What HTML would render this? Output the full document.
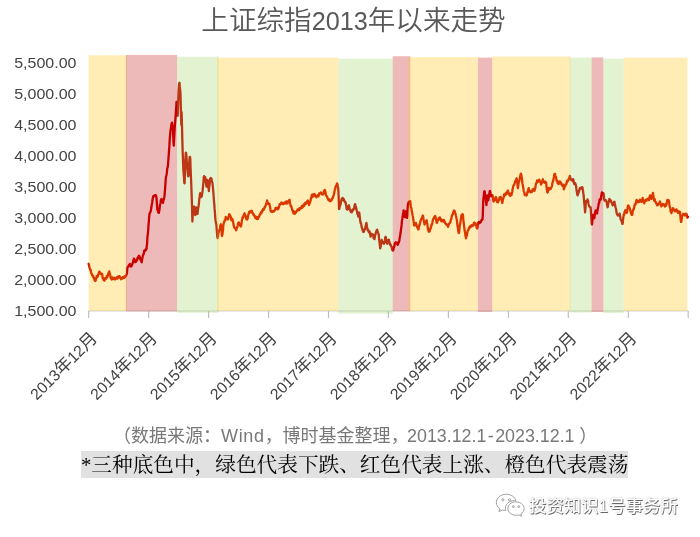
<!DOCTYPE html>
<html lang="zh-CN">
<head>
<meta charset="utf-8">
<title>上证综指2013年以来走势</title>
<style>
html,body{margin:0;padding:0;background:#fff;}
body{width:700px;height:537px;position:relative;overflow:hidden;font-family:"Liberation Sans","Noto Sans CJK SC",sans-serif;}
svg{position:absolute;left:0;top:0;display:block;}
.title{position:absolute;left:201.3px;top:2px;font-size:27.6px;line-height:38px;color:#595959;font-weight:350;white-space:nowrap;}
.title span{font-size:25.2px;}
.src{position:absolute;left:113px;top:421.5px;font-size:18px;line-height:28px;color:#787878;white-space:nowrap;}
.note{position:absolute;left:81px;top:451px;height:26.5px;background:#e1e1e1;font-family:"Liberation Serif","Noto Serif CJK SC",serif;font-size:20.67px;line-height:28.5px;color:#000;white-space:nowrap;overflow:hidden;}
.wm{position:absolute;left:529px;top:494px;font-size:17.4px;line-height:24px;color:#fff;white-space:nowrap;font-weight:500;text-shadow:0.8px 0.8px 0.6px #6a6a6a,0 0 1.5px #a0a0a0;}
</style>
</head>
<body>
<svg width="700" height="537" viewBox="0 0 700 537">
<g stroke="#bdbdbd" stroke-width="1.15" fill="none"><line x1="88.2" y1="311" x2="688.8" y2="311" stroke="#d0d0d0" stroke-width="1"/><line x1="88.7" y1="311" x2="88.7" y2="318"/><line x1="148.7" y1="311" x2="148.7" y2="318"/><line x1="208.6" y1="311" x2="208.6" y2="318"/><line x1="268.6" y1="311" x2="268.6" y2="318"/><line x1="328.5" y1="311" x2="328.5" y2="318"/><line x1="388.4" y1="311" x2="388.4" y2="318"/><line x1="448.4" y1="311" x2="448.4" y2="318"/><line x1="508.4" y1="311" x2="508.4" y2="318"/><line x1="568.3" y1="311" x2="568.3" y2="318"/><line x1="628.3" y1="311" x2="628.3" y2="318"/><line x1="688.2" y1="311" x2="688.2" y2="318"/></g>
<polyline points="88.6,263.8 88.9,264.7 89.2,266.1 89.5,267.7 89.8,268.2 90.1,269.5 90.4,270.4 90.7,270.0 91.0,272.2 91.3,273.3 91.6,273.4 91.9,274.2 92.2,275.4 92.5,275.7 92.8,276.1 93.1,275.7 93.4,277.2 93.7,277.9 94.0,278.7 94.3,278.1 94.6,280.2 94.9,280.6 95.2,280.0 95.5,281.0 95.8,279.9 96.1,278.2 96.4,277.8 96.7,276.2 97.0,277.4 97.3,276.8 97.6,275.9 97.9,276.4 98.2,274.4 98.5,274.7 98.8,272.7 99.1,272.4 99.4,271.6 99.7,272.7 100.0,273.2 100.3,272.5 100.6,273.5 100.9,273.6 101.2,274.4 101.5,274.3 101.8,273.9 102.1,273.9 102.4,275.7 102.7,278.2 103.0,278.4 103.3,278.2 103.6,280.1 103.9,280.2 104.2,280.4 104.5,280.6 104.8,279.9 105.1,279.2 105.4,277.9 105.7,278.4 106.0,278.1 106.3,278.6 106.6,277.6 106.9,275.8 107.2,276.0 107.5,276.9 107.8,275.7 108.1,274.4 108.4,273.3 108.7,272.5 109.0,272.3 109.3,271.4 109.6,273.4 109.9,273.9 110.2,274.9 110.5,276.8 110.8,278.2 111.1,278.2 111.4,279.0 111.7,279.5 112.0,279.0 112.3,277.5 112.6,278.5 112.9,279.1 113.2,279.0 113.5,278.1 113.8,278.0 114.1,277.7 114.4,277.7 114.7,278.8 115.0,279.5 115.3,279.2 115.6,278.9 115.9,278.7 116.2,278.1 116.5,277.7 116.8,277.1 117.1,277.1 117.4,278.7 117.7,278.4 118.0,277.4 118.3,276.7 118.6,276.1 118.9,276.7 119.2,277.2 119.5,276.2 119.8,277.1 120.1,276.9 120.4,278.3 120.7,278.2 121.0,279.2 121.3,278.4 121.6,278.1 121.9,278.2 122.2,278.7 122.5,278.6 122.8,277.2 123.1,277.4 123.4,277.4 123.7,277.0 124.0,276.6 124.3,278.0 124.6,277.1 124.9,276.3 125.2,276.9 125.5,276.3 125.8,275.5 126.1,275.4 126.4,274.8 126.7,274.1 127.0,272.6 127.3,268.0 127.6,267.1 127.9,266.7 128.2,266.4 128.5,266.6 128.8,265.8 129.1,264.8 129.4,265.5 129.7,264.8 130.0,264.0 130.3,265.3 130.6,265.4 130.9,266.5 131.2,266.5 131.5,266.2 131.8,265.3 132.1,264.7 132.4,264.0 132.7,262.8 133.0,262.1 133.3,260.4 133.6,260.2 133.9,258.6 134.2,259.4 134.5,260.5 134.8,261.3 135.1,262.2 135.4,260.4 135.7,261.2 136.0,261.8 136.3,261.4 136.6,259.6 136.9,259.4 137.2,260.1 137.5,257.8 137.8,257.8 138.1,258.0 138.4,256.5 138.7,256.4 139.0,255.7 139.3,256.0 139.6,256.5 139.9,257.7 140.2,258.4 140.5,259.8 140.8,259.4 141.1,260.1 141.4,261.5 141.7,262.3 142.0,259.5 142.3,258.7 142.6,256.7 142.9,255.6 143.2,254.5 143.5,254.6 143.8,253.6 144.1,251.4 144.4,250.4 144.7,251.1 145.0,250.4 145.3,250.7 145.6,250.3 145.9,249.2 146.2,249.8 146.5,248.6 146.8,245.7 147.1,243.6 147.4,237.6 147.7,235.1 148.0,232.3 148.3,228.6 148.6,223.6 148.9,221.1 149.2,216.3 149.5,213.8 149.8,213.1 150.1,213.0 150.4,211.9 150.7,211.2 151.0,209.4 151.3,208.1 151.6,205.8 151.9,203.9 152.2,202.4 152.5,200.0 152.8,198.3 153.1,196.8 153.4,196.1 153.7,196.0 154.0,195.6 154.3,195.8 154.6,195.4 154.9,196.1 155.2,195.2 155.5,195.4 155.8,195.2 156.1,196.2 156.4,197.4 156.7,200.2 157.0,205.3 157.3,209.5 157.6,210.1 157.9,210.5 158.2,212.2 158.5,212.9 158.8,212.9 159.1,211.7 159.4,210.1 159.7,207.4 160.0,205.0 160.3,203.8 160.6,202.4 160.9,199.9 161.2,200.2 161.5,198.9 161.8,200.2 162.1,200.0 162.4,202.0 162.7,202.1 163.0,203.0 163.3,200.8 163.6,200.0 163.9,198.9 164.2,197.8 164.5,196.1 164.8,192.1 165.1,188.7 165.4,184.1 165.7,179.4 166.0,177.0 166.3,175.7 166.6,174.5 166.9,172.6 167.2,168.8 167.5,167.5 167.8,166.6 168.1,163.6 168.4,159.2 168.7,155.7 169.0,151.1 169.3,146.8 169.6,141.7 169.9,137.7 170.2,133.6 170.5,130.6 170.8,129.1 171.1,127.5 171.4,124.7 171.7,123.3 172.0,122.6 172.3,124.9 172.6,125.4 172.9,128.8 173.2,134.9 173.5,142.2 173.8,145.6 174.1,139.4 174.4,133.7 174.7,128.5 175.0,123.6 175.3,120.5 175.6,116.5 175.9,111.6 176.2,107.7 176.5,101.8 176.8,103.5 177.1,109.5 177.4,115.7 177.7,115.6 178.0,108.2 178.3,98.8 178.6,90.6 178.9,86.5 179.2,83.8 179.5,82.8 179.8,86.7 180.1,89.3 180.4,92.2 180.7,102.4 181.0,113.4 181.3,125.0 181.6,112.2 181.9,122.4 182.2,134.5 182.5,146.2 182.8,155.3 183.1,163.7 183.4,170.6 183.7,174.0 184.0,177.9 184.3,182.9 184.6,183.3 184.9,173.9 185.2,163.9 185.5,157.5 185.8,152.7 186.1,153.2 186.4,155.7 186.7,160.6 187.0,164.6 187.3,167.7 187.6,170.6 187.9,173.8 188.2,176.3 188.5,175.7 188.8,171.0 189.1,164.7 189.4,160.1 189.7,157.0 190.0,157.0 190.3,159.5 190.6,169.0 190.9,175.8 191.2,182.9 191.5,191.0 191.8,199.5 192.1,210.2 192.4,221.5 192.7,216.0 193.0,210.8 193.3,207.0 193.6,207.9 193.9,207.4 194.2,206.6 194.5,207.7 194.8,211.4 195.1,215.0 195.4,214.8 195.7,213.0 196.0,210.5 196.3,207.5 196.6,208.9 196.9,211.7 197.2,213.2 197.5,214.0 197.8,211.3 198.1,208.8 198.4,207.1 198.7,205.4 199.0,202.7 199.3,199.0 199.6,197.9 199.9,194.7 200.2,193.2 200.5,195.1 200.8,196.4 201.1,197.0 201.4,196.8 201.7,196.3 202.0,194.3 202.3,192.7 202.6,190.7 202.9,187.7 203.2,184.7 203.5,181.5 203.8,177.1 204.1,176.2 204.4,177.0 204.7,177.2 205.0,177.5 205.3,177.2 205.6,179.8 205.9,182.8 206.2,184.3 206.5,186.7 206.8,186.2 207.1,183.7 207.4,180.0 207.7,180.7 208.0,184.1 208.3,186.6 208.6,188.4 208.9,191.1 209.2,187.0 209.5,185.0 209.8,182.5 210.1,178.7 210.4,178.4 210.7,177.9 211.0,178.7 211.3,178.3 211.6,179.2 211.9,180.7 212.2,182.0 212.5,183.4 212.8,186.3 213.1,189.7 213.4,193.0 213.7,196.9 214.0,201.8 214.3,204.1 214.6,208.9 214.9,212.3 215.2,216.9 215.5,220.4 215.8,222.0 216.1,223.6 216.4,225.1 216.7,229.3 217.0,232.8 217.3,236.5 217.6,238.0 217.9,236.9 218.2,234.6 218.5,232.8 218.8,232.0 219.1,230.3 219.4,229.9 219.7,229.1 220.0,228.1 220.3,226.3 220.6,224.8 220.9,224.2 221.2,229.0 221.5,231.1 221.8,234.9 222.1,235.9 222.4,234.2 222.7,232.0 223.0,230.1 223.3,225.4 223.6,223.8 223.9,222.7 224.2,222.2 224.5,221.0 224.8,220.0 225.1,219.9 225.4,220.1 225.7,216.9 226.0,217.5 226.3,218.3 226.6,218.6 226.9,218.6 227.2,218.0 227.5,218.1 227.8,219.4 228.1,219.2 228.4,217.9 228.7,216.1 229.0,215.4 229.3,214.2 229.6,214.4 229.9,215.2 230.2,215.6 230.5,216.8 230.8,216.9 231.1,218.8 231.4,220.4 231.7,219.1 232.0,219.6 232.3,218.9 232.6,219.9 232.9,221.0 233.2,222.2 233.5,224.6 233.8,225.8 234.1,227.1 234.4,227.6 234.7,228.0 235.0,228.2 235.3,228.7 235.6,228.6 235.9,229.6 236.2,230.3 236.5,229.3 236.8,227.3 237.1,227.2 237.4,227.0 237.7,225.4 238.0,223.4 238.3,222.9 238.6,223.6 238.9,222.4 239.2,223.7 239.5,224.1 239.8,224.2 240.1,225.5 240.4,225.2 240.7,226.5 241.0,226.3 241.3,224.8 241.6,222.7 241.9,220.4 242.2,219.0 242.5,217.3 242.8,218.2 243.1,217.4 243.4,216.2 243.7,215.1 244.0,214.4 244.3,214.3 244.6,213.3 244.9,215.4 245.2,215.2 245.5,215.4 245.8,216.6 246.1,218.2 246.4,219.3 246.7,218.9 247.0,219.5 247.3,219.4 247.6,218.6 247.9,217.5 248.2,215.6 248.5,214.0 248.8,213.6 249.1,212.0 249.4,212.7 249.7,212.3 250.0,211.4 250.3,211.3 250.6,211.0 250.9,211.3 251.2,212.4 251.5,211.4 251.8,210.7 252.1,211.9 252.4,212.3 252.7,212.9 253.0,213.6 253.3,213.9 253.6,215.1 253.9,214.8 254.2,215.6 254.5,215.7 254.8,215.9 255.1,217.3 255.4,218.0 255.7,216.7 256.0,216.7 256.3,217.7 256.6,218.9 256.9,218.4 257.2,218.6 257.5,217.2 257.8,219.0 258.1,218.2 258.4,217.8 258.7,217.2 259.0,216.8 259.3,216.2 259.6,214.9 259.9,214.8 260.2,214.0 260.5,214.3 260.8,212.9 261.1,212.1 261.4,212.3 261.7,212.6 262.0,211.8 262.3,210.5 262.6,210.1 262.9,209.3 263.2,210.4 263.5,209.9 263.8,209.7 264.1,208.7 264.4,207.4 264.7,207.5 265.0,207.5 265.3,206.4 265.6,205.1 265.9,204.9 266.2,203.4 266.5,203.2 266.8,201.7 267.1,200.4 267.4,201.3 267.7,202.1 268.0,203.8 268.3,203.5 268.6,203.8 268.9,203.7 269.2,203.6 269.5,204.1 269.8,206.4 270.1,206.9 270.4,209.2 270.7,211.0 271.0,210.6 271.3,211.8 271.6,211.4 271.9,211.9 272.2,211.3 272.5,211.9 272.8,211.0 273.1,211.6 273.4,211.3 273.7,211.4 274.0,211.4 274.3,210.9 274.6,210.2 274.9,210.1 275.2,209.9 275.5,208.0 275.8,208.1 276.1,208.6 276.4,208.0 276.7,208.5 277.0,207.6 277.3,209.1 277.6,208.8 277.9,208.8 278.2,209.2 278.5,208.1 278.8,207.8 279.1,206.2 279.4,205.4 279.7,204.1 280.0,204.0 280.3,204.5 280.6,203.9 280.9,203.8 281.2,202.8 281.5,202.4 281.8,202.6 282.1,203.4 282.4,203.8 282.7,203.7 283.0,204.2 283.3,203.6 283.6,203.2 283.9,203.8 284.2,202.6 284.5,202.4 284.8,203.2 285.1,202.4 285.4,202.6 285.7,201.9 286.0,203.5 286.3,201.5 286.6,201.3 286.9,201.4 287.2,203.4 287.5,203.3 287.8,202.6 288.1,201.4 288.4,201.8 288.7,201.7 289.0,200.9 289.3,199.8 289.6,199.9 289.9,202.0 290.2,203.7 290.5,205.0 290.8,206.1 291.1,205.8 291.4,207.2 291.7,207.6 292.0,208.9 292.3,210.2 292.6,210.4 292.9,210.6 293.2,212.5 293.5,213.4 293.8,213.5 294.1,211.4 294.4,212.2 294.7,213.0 295.0,213.7 295.3,212.6 295.6,212.0 295.9,211.7 296.2,212.3 296.5,211.1 296.8,211.0 297.1,210.3 297.4,210.6 297.7,209.4 298.0,209.9 298.3,209.5 298.6,209.3 298.9,209.6 299.2,210.0 299.5,208.1 299.8,208.8 300.1,208.7 300.4,208.0 300.7,208.6 301.0,207.9 301.3,208.2 301.6,206.9 301.9,205.9 302.2,206.7 302.5,207.6 302.8,207.0 303.1,206.8 303.4,205.7 303.7,204.5 304.0,204.6 304.3,205.8 304.6,203.9 304.9,203.9 305.2,202.8 305.5,203.4 305.8,203.9 306.1,202.5 306.4,202.2 306.7,203.0 307.0,202.1 307.3,201.0 307.6,200.9 307.9,200.5 308.2,202.5 308.5,202.6 308.8,204.2 309.1,205.0 309.4,204.1 309.7,202.8 310.0,202.5 310.3,201.5 310.6,200.6 310.9,198.3 311.2,198.4 311.5,196.8 311.8,195.0 312.1,195.1 312.4,195.7 312.7,196.9 313.0,195.6 313.3,194.1 313.6,195.5 313.9,195.3 314.2,195.0 314.5,194.4 314.8,194.3 315.1,196.0 315.4,195.8 315.7,195.7 316.0,195.7 316.3,197.3 316.6,196.5 316.9,196.7 317.2,196.5 317.5,196.2 317.8,195.2 318.1,195.6 318.4,196.3 318.7,195.5 319.0,194.3 319.3,193.3 319.6,193.8 319.9,193.6 320.2,193.6 320.5,193.5 320.8,192.4 321.1,193.3 321.4,193.2 321.7,193.2 322.0,193.7 322.3,194.5 322.6,194.5 322.9,194.0 323.2,194.4 323.5,193.3 323.8,192.2 324.1,190.8 324.4,190.9 324.7,189.9 325.0,190.5 325.3,192.2 325.6,193.2 325.9,194.8 326.2,195.6 326.5,195.9 326.8,196.3 327.1,196.6 327.4,197.9 327.7,198.4 328.0,198.6 328.3,199.9 328.6,200.3 328.9,200.2 329.2,199.4 329.5,200.5 329.8,201.0 330.1,201.2 330.4,201.1 330.7,200.8 331.0,200.7 331.3,200.5 331.6,199.9 331.9,199.3 332.2,198.5 332.5,198.3 332.8,197.9 333.1,196.5 333.4,196.0 333.7,195.2 334.0,194.1 334.3,192.4 334.6,191.0 334.9,189.3 335.2,189.3 335.5,186.8 335.8,186.3 336.1,185.6 336.4,185.6 336.7,184.5 337.0,183.4 337.3,183.8 337.6,185.0 337.9,186.8 338.2,188.1 338.5,193.7 338.8,201.1 339.1,209.1 339.4,208.7 339.7,206.4 340.0,205.4 340.3,205.3 340.6,203.9 340.9,202.1 341.2,201.4 341.5,199.5 341.8,198.6 342.1,199.0 342.4,199.9 342.7,197.9 343.0,198.6 343.3,199.9 343.6,198.9 343.9,199.4 344.2,201.1 344.5,201.0 344.8,202.0 345.1,202.5 345.4,201.9 345.7,203.6 346.0,204.5 346.3,206.4 346.6,208.7 346.9,209.4 347.2,209.5 347.5,209.6 347.8,208.9 348.1,208.9 348.4,206.8 348.7,205.7 349.0,205.3 349.3,207.6 349.6,208.8 349.9,209.4 350.2,210.1 350.5,211.1 350.8,211.8 351.1,212.0 351.4,211.6 351.7,212.4 352.0,211.8 352.3,210.5 352.6,209.8 352.9,210.4 353.2,209.9 353.5,209.2 353.8,208.8 354.1,208.9 354.4,206.7 354.7,205.7 355.0,204.1 355.3,205.2 355.6,206.2 355.9,207.0 356.2,207.9 356.5,209.9 356.8,210.9 357.1,211.7 357.4,214.0 357.7,214.1 358.0,214.5 358.3,216.7 358.6,215.1 358.9,213.7 359.2,212.5 359.5,214.7 359.8,217.4 360.1,219.8 360.4,221.8 360.7,223.3 361.0,223.1 361.3,224.7 361.6,226.8 361.9,228.0 362.2,228.3 362.5,229.9 362.8,230.4 363.1,231.6 363.4,231.9 363.7,231.8 364.0,231.0 364.3,229.9 364.6,229.4 364.9,229.3 365.2,228.6 365.5,226.7 365.8,225.1 366.1,224.0 366.4,222.8 366.7,224.7 367.0,226.7 367.3,228.1 367.6,229.6 367.9,230.6 368.2,230.6 368.5,230.3 368.8,232.0 369.1,232.5 369.4,231.5 369.7,231.6 370.0,233.1 370.3,235.1 370.6,236.7 370.9,235.7 371.2,234.5 371.5,233.9 371.8,234.5 372.1,234.9 372.4,235.2 372.7,235.2 373.0,234.5 373.3,235.8 373.6,238.3 373.9,238.4 374.2,238.8 374.5,239.0 374.8,237.2 375.1,235.2 375.4,234.8 375.7,233.2 376.0,232.6 376.3,231.0 376.6,230.6 376.9,230.0 377.2,229.6 377.5,231.1 377.8,232.3 378.1,232.8 378.4,234.0 378.7,234.4 379.0,237.8 379.3,240.9 379.6,243.1 379.9,245.4 380.2,248.4 380.5,247.3 380.8,246.0 381.1,244.3 381.4,241.6 381.7,239.9 382.0,240.6 382.3,241.7 382.6,242.6 382.9,242.6 383.2,242.9 383.5,243.3 383.8,243.3 384.1,243.7 384.4,242.6 384.7,241.7 385.0,240.4 385.3,237.2 385.6,236.8 385.9,237.9 386.2,240.2 386.5,242.3 386.8,242.4 387.1,243.5 387.4,243.7 387.7,242.3 388.0,241.0 388.3,239.9 388.6,240.0 388.9,239.6 389.2,241.4 389.5,242.0 389.8,243.2 390.1,244.8 390.4,244.4 390.7,244.6 391.0,246.0 391.3,246.3 391.6,247.1 391.9,248.5 392.2,249.9 392.5,250.1 392.8,250.6 393.1,250.2 393.4,250.0 393.7,247.1 394.0,247.3 394.3,246.5 394.6,244.6 394.9,243.1 395.2,243.3 395.5,242.6 395.8,242.3 396.1,243.2 396.4,243.0 396.7,243.4 397.0,243.9 397.3,244.6 397.6,244.8 397.9,244.6 398.2,243.1 398.5,241.8 398.8,242.6 399.1,241.5 399.4,240.5 399.7,237.7 400.0,236.8 400.3,234.5 400.6,232.8 400.9,230.3 401.2,227.9 401.5,225.9 401.8,222.5 402.1,219.9 402.4,218.2 402.7,215.9 403.0,214.0 403.3,212.5 403.6,210.4 403.9,212.0 404.2,212.8 404.5,215.1 404.8,217.0 405.1,217.1 405.4,216.3 405.7,214.0 406.0,211.2 406.3,211.1 406.6,214.2 406.9,217.9 407.2,216.5 407.5,210.9 407.8,206.2 408.1,203.7 408.4,204.2 408.7,201.8 409.0,203.0 409.3,202.4 409.6,203.2 409.9,202.0 410.2,201.0 410.5,203.3 410.8,206.2 411.1,207.9 411.4,208.0 411.7,211.2 412.0,212.0 412.3,213.8 412.6,215.5 412.9,216.8 413.2,218.7 413.5,220.8 413.8,223.0 414.1,225.3 414.4,225.5 414.7,224.0 415.0,223.8 415.3,224.1 415.6,223.9 415.9,222.8 416.2,223.8 416.5,224.8 416.8,226.1 417.1,227.3 417.4,226.9 417.7,227.1 418.0,228.8 418.3,229.4 418.6,229.4 418.9,226.5 419.2,226.4 419.5,224.1 419.8,224.3 420.1,223.2 420.4,221.8 420.7,220.3 421.0,220.0 421.3,218.7 421.6,218.6 421.9,217.9 422.2,217.1 422.5,216.4 422.8,215.5 423.1,216.1 423.4,218.4 423.7,220.3 424.0,221.4 424.3,223.3 424.6,224.5 424.9,222.8 425.2,222.5 425.5,222.0 425.8,221.2 426.1,221.5 426.4,220.6 426.7,220.3 427.0,222.4 427.3,224.3 427.6,226.1 427.9,229.1 428.2,229.5 428.5,231.1 428.8,231.7 429.1,231.5 429.4,231.6 429.7,231.2 430.0,229.4 430.3,228.3 430.6,228.5 430.9,227.2 431.2,226.8 431.5,224.6 431.8,224.7 432.1,224.0 432.4,222.7 432.7,220.7 433.0,219.6 433.3,219.0 433.6,218.6 433.9,217.8 434.2,217.1 434.5,216.7 434.8,217.0 435.1,215.8 435.4,216.6 435.7,217.5 436.0,219.3 436.3,220.1 436.6,222.7 436.9,223.0 437.2,222.1 437.5,221.0 437.8,220.7 438.1,220.1 438.4,219.5 438.7,218.1 439.0,218.4 439.3,217.7 439.6,219.4 439.9,217.5 440.2,218.4 440.5,218.7 440.8,220.4 441.1,219.7 441.4,221.3 441.7,219.7 442.0,221.3 442.3,220.8 442.6,220.2 442.9,220.1 443.2,221.2 443.5,221.5 443.8,219.8 444.1,221.7 444.4,222.2 444.7,221.5 445.0,223.1 445.3,222.9 445.6,223.6 445.9,224.2 446.2,223.9 446.5,224.8 446.8,224.2 447.1,224.9 447.4,224.8 447.7,225.2 448.0,226.9 448.3,226.4 448.6,224.8 448.9,224.4 449.2,223.5 449.5,223.3 449.8,223.1 450.1,222.7 450.4,222.0 450.7,220.4 451.0,219.7 451.3,219.2 451.6,217.2 451.9,216.0 452.2,214.9 452.5,214.6 452.8,214.5 453.1,213.0 453.4,212.6 453.7,211.1 454.0,210.5 454.3,210.6 454.6,211.0 454.9,212.7 455.2,213.3 455.5,213.5 455.8,215.3 456.1,216.5 456.4,218.0 456.7,219.2 457.0,221.5 457.3,223.9 457.6,226.4 457.9,227.9 458.2,230.8 458.5,232.3 458.8,233.1 459.1,232.1 459.4,229.4 459.7,225.9 460.0,224.8 460.3,222.8 460.6,221.1 460.9,218.9 461.2,217.0 461.5,215.3 461.8,214.6 462.1,215.7 462.4,214.9 462.7,214.3 463.0,215.1 463.3,219.5 463.6,222.5 463.9,224.6 464.2,226.8 464.5,229.3 464.8,231.8 465.1,232.3 465.4,235.3 465.7,236.9 466.0,238.4 466.3,236.8 466.6,236.0 466.9,235.5 467.2,233.4 467.5,231.8 467.8,230.3 468.1,230.3 468.4,230.2 468.7,228.4 469.0,227.9 469.3,228.3 469.6,226.7 469.9,226.7 470.2,227.2 470.5,225.8 470.8,225.8 471.1,226.0 471.4,226.5 471.7,225.1 472.0,225.9 472.3,225.6 472.6,225.9 472.9,225.9 473.2,225.1 473.5,224.7 473.8,223.1 474.1,222.6 474.4,222.7 474.7,223.3 475.0,224.5 475.3,223.3 475.6,224.0 475.9,224.2 476.2,224.6 476.5,227.2 476.8,228.0 477.1,228.5 477.4,227.6 477.7,225.1 478.0,222.7 478.3,223.6 478.6,222.6 478.9,221.9 479.2,222.8 479.5,223.0 479.8,222.6 480.1,222.7 480.4,222.4 480.7,221.9 481.0,221.8 481.3,220.6 481.6,219.8 481.9,219.8 482.2,219.3 482.5,219.4 482.8,215.0 483.1,204.4 483.4,198.5 483.7,197.4 484.0,193.5 484.3,191.5 484.6,191.1 484.9,193.3 485.2,195.5 485.5,195.7 485.8,199.5 486.1,202.1 486.4,205.2 486.7,202.0 487.0,198.2 487.3,195.5 487.6,197.7 487.9,199.3 488.2,200.4 488.5,199.0 488.8,196.9 489.1,196.2 489.4,193.3 489.7,191.2 490.0,191.0 490.3,192.1 490.6,195.0 490.9,196.2 491.2,195.8 491.5,195.5 491.8,195.5 492.1,195.6 492.4,195.1 492.7,196.3 493.0,197.4 493.3,200.3 493.6,201.5 493.9,200.7 494.2,200.4 494.5,200.1 494.8,200.2 495.1,200.0 495.4,198.4 495.7,197.2 496.0,197.2 496.3,197.7 496.6,199.3 496.9,201.1 497.2,202.2 497.5,202.2 497.8,201.7 498.1,202.4 498.4,200.7 498.7,200.6 499.0,200.0 499.3,198.6 499.6,197.3 499.9,197.6 500.2,196.9 500.5,197.0 500.8,197.2 501.1,197.6 501.4,199.1 501.7,200.5 502.0,201.3 502.3,203.0 502.6,201.7 502.9,199.6 503.2,198.9 503.5,198.0 503.8,196.7 504.1,194.4 504.4,195.2 504.7,195.5 505.0,195.4 505.3,195.0 505.6,193.5 505.9,193.5 506.2,192.6 506.5,194.2 506.8,193.0 507.1,193.1 507.4,191.4 507.7,190.7 508.0,190.6 508.3,192.0 508.6,193.2 508.9,193.9 509.2,193.2 509.5,195.3 509.8,194.3 510.1,195.4 510.4,195.9 510.7,195.3 511.0,195.0 511.3,193.1 511.6,194.7 511.9,192.9 512.2,192.0 512.5,189.8 512.8,188.6 513.1,186.7 513.4,185.9 513.7,185.3 514.0,184.6 514.3,184.6 514.6,183.5 514.9,182.3 515.2,181.1 515.5,182.1 515.8,180.6 516.1,180.9 516.4,178.7 516.7,178.3 517.0,180.6 517.3,182.2 517.6,185.9 517.9,188.2 518.2,186.3 518.5,183.7 518.8,182.2 519.1,181.9 519.4,180.5 519.7,179.1 520.0,177.1 520.3,176.1 520.6,174.1 520.9,173.6 521.2,174.4 521.5,176.5 521.8,177.4 522.1,179.9 522.4,183.2 522.7,184.6 523.0,186.0 523.3,188.2 523.6,190.2 523.9,191.6 524.2,192.3 524.5,193.4 524.8,195.0 525.1,194.3 525.4,195.1 525.7,195.1 526.0,195.0 526.3,195.5 526.6,195.2 526.9,194.6 527.2,193.2 527.5,191.7 527.8,192.4 528.1,190.3 528.4,189.0 528.7,188.2 529.0,189.4 529.3,190.4 529.6,191.6 529.9,191.7 530.2,191.0 530.5,191.8 530.8,192.3 531.1,191.8 531.4,191.3 531.7,191.3 532.0,191.8 532.3,190.9 532.6,189.4 532.9,189.5 533.2,189.9 533.5,188.9 533.8,190.3 534.1,190.0 534.4,190.8 534.7,190.4 535.0,188.6 535.3,188.3 535.6,185.9 535.9,183.8 536.2,183.2 536.5,183.1 536.8,182.1 537.1,180.5 537.4,180.6 537.7,180.7 538.0,182.0 538.3,181.1 538.6,181.0 538.9,180.4 539.2,179.6 539.5,180.3 539.8,181.6 540.1,181.5 540.4,182.0 540.7,182.3 541.0,184.5 541.3,183.6 541.6,183.4 541.9,181.9 542.2,181.4 542.5,180.3 542.8,179.3 543.1,180.7 543.4,182.0 543.7,181.0 544.0,182.0 544.3,182.6 544.6,182.6 544.9,182.8 545.2,181.7 545.5,182.5 545.8,183.5 546.1,182.3 546.4,184.9 546.7,188.3 547.0,190.3 547.3,192.0 547.6,192.6 547.9,192.0 548.2,190.8 548.5,190.2 548.8,187.9 549.1,188.4 549.4,188.4 549.7,189.2 550.0,188.9 550.3,188.6 550.6,189.1 550.9,188.2 551.2,187.3 551.5,187.0 551.8,186.6 552.1,185.2 552.4,183.3 552.7,181.9 553.0,181.3 553.3,180.5 553.6,178.5 553.9,176.9 554.2,175.0 554.5,174.0 554.8,175.0 555.1,173.8 555.4,176.0 555.7,177.0 556.0,176.9 556.3,179.3 556.6,180.5 556.9,181.3 557.2,180.7 557.5,183.0 557.8,183.0 558.1,182.8 558.4,184.0 558.7,183.7 559.0,183.5 559.3,183.6 559.6,181.3 559.9,182.6 560.2,181.7 560.5,182.2 560.8,183.2 561.1,182.9 561.4,183.8 561.7,184.8 562.0,185.0 562.3,185.7 562.6,184.7 562.9,184.6 563.2,184.8 563.5,186.1 563.8,189.3 564.1,188.7 564.4,187.3 564.7,186.5 565.0,186.5 565.3,186.0 565.6,184.3 565.9,184.6 566.2,183.8 566.5,183.9 566.8,181.8 567.1,180.9 567.4,181.7 567.7,180.3 568.0,180.8 568.3,180.3 568.6,179.5 568.9,178.8 569.2,177.9 569.5,177.2 569.8,175.8 570.1,176.4 570.4,179.1 570.7,179.5 571.0,179.7 571.3,179.9 571.6,179.5 571.9,179.9 572.2,180.0 572.5,181.0 572.8,180.3 573.1,179.1 573.4,179.9 573.7,181.3 574.0,183.6 574.3,184.0 574.6,183.0 574.9,183.3 575.2,183.2 575.5,183.9 575.8,185.2 576.1,186.2 576.4,188.9 576.7,191.0 577.0,192.6 577.3,194.6 577.6,195.4 577.9,194.3 578.2,193.2 578.5,193.3 578.8,191.2 579.1,191.2 579.4,189.7 579.7,188.4 580.0,188.0 580.3,189.0 580.6,188.0 580.9,188.7 581.2,188.6 581.5,187.3 581.8,188.3 582.1,187.6 582.4,187.3 582.7,189.1 583.0,190.9 583.3,193.5 583.6,194.8 583.9,199.0 584.2,202.4 584.5,205.2 584.8,208.3 585.1,212.4 585.4,209.2 585.7,203.8 586.0,201.1 586.3,202.1 586.6,202.0 586.9,201.7 587.2,201.2 587.5,199.4 587.8,200.6 588.1,200.9 588.4,203.5 588.7,204.7 589.0,205.8 589.3,206.4 589.6,206.8 589.9,207.1 590.2,207.4 590.5,207.1 590.8,210.1 591.1,214.7 591.4,219.7 591.7,223.9 592.0,224.5 592.3,221.1 592.6,216.9 592.9,215.0 593.2,215.0 593.5,215.9 593.8,217.9 594.1,218.4 594.4,218.0 594.7,215.1 595.0,213.0 595.3,211.5 595.6,210.5 595.9,210.6 596.2,211.8 596.5,211.5 596.8,212.9 597.1,213.5 597.4,210.5 597.7,209.4 598.0,207.4 598.3,206.5 598.6,204.1 598.9,203.0 599.2,202.8 599.5,200.2 599.8,199.2 600.1,199.9 600.4,199.8 600.7,199.6 601.0,198.0 601.3,195.4 601.6,194.4 601.9,192.4 602.2,192.8 602.5,193.0 602.8,193.8 603.1,193.1 603.4,193.1 603.7,194.2 604.0,198.7 604.3,199.8 604.6,200.7 604.9,200.0 605.2,200.0 605.5,199.9 605.8,200.5 606.1,200.4 606.4,201.4 606.7,202.3 607.0,203.8 607.3,206.2 607.6,207.2 607.9,206.7 608.2,203.6 608.5,203.0 608.8,201.8 609.1,201.1 609.4,198.9 609.7,199.7 610.0,200.1 610.3,200.5 610.6,200.2 610.9,200.7 611.2,201.9 611.5,202.5 611.8,203.0 612.1,203.7 612.4,204.4 612.7,205.4 613.0,204.8 613.3,203.0 613.6,204.1 613.9,202.1 614.2,201.8 614.5,202.0 614.8,203.8 615.1,204.9 615.4,206.8 615.7,207.9 616.0,208.8 616.3,210.7 616.6,212.9 616.9,213.8 617.2,214.6 617.5,214.7 617.8,215.5 618.1,215.6 618.4,214.8 618.7,215.2 619.0,214.6 619.3,214.4 619.6,213.6 619.9,214.7 620.2,216.5 620.5,218.2 620.8,219.7 621.1,220.0 621.4,220.6 621.7,221.8 622.0,221.6 622.3,223.9 622.6,223.9 622.9,221.3 623.2,218.3 623.5,216.6 623.8,214.3 624.1,214.9 624.4,213.7 624.7,211.5 625.0,211.5 625.3,210.3 625.6,210.1 625.9,210.6 626.2,211.1 626.5,211.8 626.8,212.8 627.1,211.5 627.4,209.4 627.7,207.2 628.0,205.9 628.3,205.4 628.6,206.2 628.9,208.0 629.2,207.1 629.5,208.1 629.8,208.7 630.1,209.4 630.4,210.9 630.7,211.9 631.0,212.9 631.3,213.8 631.6,214.8 631.9,214.8 632.2,214.8 632.5,212.9 632.8,211.1 633.1,210.4 633.4,209.1 633.7,209.3 634.0,207.5 634.3,206.8 634.6,204.9 634.9,204.2 635.2,204.0 635.5,204.5 635.8,202.9 636.1,202.5 636.4,200.3 636.7,200.0 637.0,200.3 637.3,200.8 637.6,201.7 637.9,202.4 638.2,201.3 638.5,202.0 638.8,200.8 639.1,201.9 639.4,201.2 639.7,200.5 640.0,199.6 640.3,200.0 640.6,200.5 640.9,200.5 641.2,201.8 641.5,201.9 641.8,201.4 642.1,200.2 642.4,199.7 642.7,198.0 643.0,201.4 643.3,200.5 643.6,200.6 643.9,202.0 644.2,203.3 644.5,202.5 644.8,201.0 645.1,200.2 645.4,199.9 645.7,199.8 646.0,199.9 646.3,200.6 646.6,200.7 646.9,199.3 647.2,199.2 647.5,199.2 647.8,199.2 648.1,198.6 648.4,198.4 648.7,199.6 649.0,200.2 649.3,197.6 649.6,197.2 649.9,196.0 650.2,195.3 650.5,195.3 650.8,196.7 651.1,198.4 651.4,198.9 651.7,196.7 652.0,197.9 652.3,198.0 652.6,195.4 652.9,192.8 653.2,194.6 653.5,196.6 653.8,199.0 654.1,200.5 654.4,200.3 654.7,199.2 655.0,200.5 655.3,201.7 655.6,201.6 655.9,202.4 656.2,203.3 656.5,203.8 656.8,203.9 657.1,205.1 657.4,204.0 657.7,205.3 658.0,204.2 658.3,204.6 658.6,203.8 658.9,203.8 659.2,203.0 659.5,202.8 659.8,201.5 660.1,201.7 660.4,203.3 660.7,204.6 661.0,205.1 661.3,206.4 661.6,205.0 661.9,205.2 662.2,204.5 662.5,204.0 662.8,205.2 663.1,204.1 663.4,204.3 663.7,204.9 664.0,204.8 664.3,204.7 664.6,205.9 664.9,206.6 665.2,204.3 665.5,205.2 665.8,205.7 666.1,205.3 666.4,205.0 666.7,202.9 667.0,202.1 667.3,200.0 667.6,199.9 667.9,200.7 668.2,200.1 668.5,200.3 668.8,200.4 669.1,201.9 669.4,204.7 669.7,206.8 670.0,207.4 670.3,208.0 670.6,211.5 670.9,211.6 671.2,212.1 671.5,213.1 671.8,211.5 672.1,210.5 672.4,210.3 672.7,209.8 673.0,208.2 673.3,209.1 673.6,209.1 673.9,209.3 674.2,209.9 674.5,210.3 674.8,211.4 675.1,211.2 675.4,210.3 675.7,210.4 676.0,209.9 676.3,209.5 676.6,209.5 676.9,210.7 677.2,211.0 677.5,211.9 677.8,212.8 678.1,212.3 678.4,211.7 678.7,211.2 679.0,211.8 679.3,212.5 679.6,213.4 679.9,211.9 680.2,214.3 680.5,217.1 680.8,220.6 681.1,221.9 681.4,221.3 681.7,218.8 682.0,217.5 682.3,216.1 682.6,215.2 682.9,214.8 683.2,213.8 683.5,214.1 683.8,214.3 684.1,214.4 684.4,214.3 684.7,215.0 685.0,215.5 685.3,213.9 685.6,214.1 685.9,213.6 686.2,213.7 686.5,214.6 686.8,215.0 687.1,216.4 687.4,217.6 687.7,217.2 688.0,216.7" fill="none" stroke="#CC0000" stroke-width="2.3" stroke-linejoin="round" stroke-linecap="round"/>
<g><rect x="88.6" y="55.3" width="38.2" height="255.7" fill="rgba(255,192,0,0.29)"/><rect x="125.9" y="54.9" width="51.2" height="256.5" fill="rgba(192,0,0,0.274)"/><rect x="177.1" y="56.7" width="41.6" height="256.1" fill="rgba(146,208,80,0.26)"/><rect x="217.2" y="57.6" width="121.1" height="253.4" fill="rgba(255,192,0,0.29)"/><rect x="338.3" y="58.7" width="54.4" height="255.0" fill="rgba(146,208,80,0.26)"/><rect x="392.7" y="56.2" width="17.6" height="255.0" fill="rgba(192,0,0,0.274)"/><rect x="408.7" y="57.1" width="69.1" height="253.9" fill="rgba(255,192,0,0.29)"/><rect x="477.9" y="57.6" width="14.3" height="254.3" fill="rgba(192,0,0,0.274)"/><rect x="492.2" y="56.5" width="78.2" height="254.3" fill="rgba(255,192,0,0.29)"/><rect x="569.6" y="57.6" width="22.0" height="255.0" fill="rgba(146,208,80,0.26)"/><rect x="591.6" y="57.4" width="11.7" height="254.5" fill="rgba(192,0,0,0.274)"/><rect x="603.3" y="58.7" width="20.3" height="254.3" fill="rgba(146,208,80,0.26)"/><rect x="623.6" y="57.6" width="63.8" height="253.4" fill="rgba(255,192,0,0.29)"/></g>
<g font-family="'Liberation Sans','Noto Sans CJK SC',sans-serif" font-size="15.5" fill="#444"><text x="76.5" y="68.2" text-anchor="end" textLength="62.3" lengthAdjust="spacingAndGlyphs">5,500.00</text><text x="76.5" y="99.2" text-anchor="end" textLength="62.3" lengthAdjust="spacingAndGlyphs">5,000.00</text><text x="76.5" y="130.2" text-anchor="end" textLength="62.3" lengthAdjust="spacingAndGlyphs">4,500.00</text><text x="76.5" y="161.2" text-anchor="end" textLength="62.3" lengthAdjust="spacingAndGlyphs">4,000.00</text><text x="76.5" y="192.2" text-anchor="end" textLength="62.3" lengthAdjust="spacingAndGlyphs">3,500.00</text><text x="76.5" y="223.2" text-anchor="end" textLength="62.3" lengthAdjust="spacingAndGlyphs">3,000.00</text><text x="76.5" y="254.2" text-anchor="end" textLength="62.3" lengthAdjust="spacingAndGlyphs">2,500.00</text><text x="76.5" y="285.2" text-anchor="end" textLength="62.3" lengthAdjust="spacingAndGlyphs">2,000.00</text><text x="76.5" y="316.2" text-anchor="end" textLength="62.3" lengthAdjust="spacingAndGlyphs">1,500.00</text></g>
<g font-family="'Liberation Sans','Noto Sans CJK SC',sans-serif" font-size="15.7" fill="#444"><text transform="translate(98.2,339.3) rotate(-45)" text-anchor="end">2013<tspan font-size="17.3">年</tspan>12<tspan font-size="17.3">月</tspan></text><text transform="translate(158.2,339.3) rotate(-45)" text-anchor="end">2014<tspan font-size="17.3">年</tspan>12<tspan font-size="17.3">月</tspan></text><text transform="translate(218.1,339.3) rotate(-45)" text-anchor="end">2015<tspan font-size="17.3">年</tspan>12<tspan font-size="17.3">月</tspan></text><text transform="translate(278.1,339.3) rotate(-45)" text-anchor="end">2016<tspan font-size="17.3">年</tspan>12<tspan font-size="17.3">月</tspan></text><text transform="translate(338.0,339.3) rotate(-45)" text-anchor="end">2017<tspan font-size="17.3">年</tspan>12<tspan font-size="17.3">月</tspan></text><text transform="translate(397.9,339.3) rotate(-45)" text-anchor="end">2018<tspan font-size="17.3">年</tspan>12<tspan font-size="17.3">月</tspan></text><text transform="translate(457.9,339.3) rotate(-45)" text-anchor="end">2019<tspan font-size="17.3">年</tspan>12<tspan font-size="17.3">月</tspan></text><text transform="translate(517.9,339.3) rotate(-45)" text-anchor="end">2020<tspan font-size="17.3">年</tspan>12<tspan font-size="17.3">月</tspan></text><text transform="translate(577.8,339.3) rotate(-45)" text-anchor="end">2021<tspan font-size="17.3">年</tspan>12<tspan font-size="17.3">月</tspan></text><text transform="translate(637.8,339.3) rotate(-45)" text-anchor="end">2022<tspan font-size="17.3">年</tspan>12<tspan font-size="17.3">月</tspan></text></g>
<g transform="translate(495.3,493.2) scale(1.05)" fill="#fff" stroke="#999" stroke-width="0.9">
<path d="M10.5 1C5.2 1 1 4.5 1 8.8c0 2.4 1.3 4.5 3.4 6L3.5 17.6l3.3-1.7c1.1.3 2.1.5 3.2.5-.2-.7-.3-1.4-.3-2.1 0-4 3.7-7.2 8.400-7.2.5 0 1 0 1.500.100C18.800 3.700 15 1 10.500 1z"/>
<path d="M27.500 14.600c0-3.500-3.500-6.400-7.800-6.400s-7.800 2.900-7.800 6.400 3.500 6.400 7.800 6.400c.9 0 1.800-.1 2.600-.4l2.700 1.400-.7-2.300c1.900-1.200 3.200-3 3.200-5.100z"/>
<circle cx="7.300" cy="6.300" r="1" /><circle cx="13.500" cy="6.300" r="1"/><circle cx="17.200" cy="12.800" r=".9"/><circle cx="22.300" cy="12.800" r=".9"/>
</g>
</svg>
<div class="title">上证综指<span>2013</span>年以来走势</div>
<div class="src">（数据来源：<span style="letter-spacing:0.65px">Wind</span>，博时基金整理<span style="margin-right:-1.6px">，</span><span style="font-size:17.85px">2013.12.1<span style="margin:0 1.4px">-</span>2023.12.1</span><span style="margin-left:4.6px">）</span></div>
<div class="note">*三种底色中，绿色代表下跌、红色代表上涨、橙色代表震荡</div>
<div class="wm">投资知识1号事务所</div>
</body>
</html>
